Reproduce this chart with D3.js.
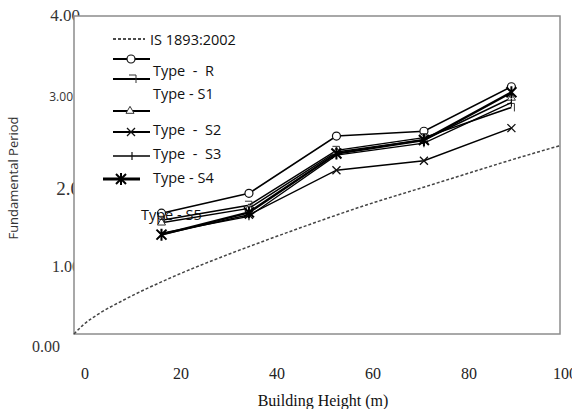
<!DOCTYPE html>
<html>
<head>
<meta charset="utf-8">
<script src="https://cdn.jsdelivr.net/npm/d3@7"></script>
<style>
  body { margin: 0; background: #fff; }
  svg { display: block; }
</style>
</head>
<body>
<div id="vis"></div>
<script>
const FRAME_WIDTH = 572;
const FRAME_HEIGHT = 409;
const MARGINS = {left: 74, right: 12, top: 16, bottom: 75};

// building heights (m) where the models were analysed
const heights = [18, 36, 54, 72, 90];
const typeR  = [1.52, 1.77, 2.49, 2.55, 3.11];
const typeS1 = [1.43, 1.62, 2.31, 2.47, 2.85];
const typeS2 = [1.40, 1.58, 2.29, 2.44, 2.97];
const typeS3 = [1.25, 1.50, 2.06, 2.18, 2.59];
const typeS4 = [1.27, 1.48, 2.25, 2.40, 2.91];
const typeS5 = [1.25, 1.53, 2.27, 2.44, 3.04];

// code curve
const codeHeights = [0, 2, 5, 10, 20, 30, 40, 50, 60, 70, 80, 90, 100];
const codePeriod  = [0, 0.12, 0.25, 0.42, 0.71, 0.96, 1.19, 1.41, 1.62, 1.81, 2.00, 2.19, 2.37];

const xTicks = [0, 20, 40, 60, 80, 100];
const yTicks = [0, 1, 2, 3, 4];
const yTickText = ["0.00", "1.00", "2.0", "3.00", "4.00"];

const VIS_WIDTH = FRAME_WIDTH - MARGINS.left - MARGINS.right;
const VIS_HEIGHT = FRAME_HEIGHT - MARGINS.top - MARGINS.bottom;

const svg = d3.select("#vis").append("svg")
    .attr("width", FRAME_WIDTH)
    .attr("height", FRAME_HEIGHT);

const X_SCALE = d3.scaleLinear().domain([0, 100]).range([MARGINS.left, MARGINS.left + VIS_WIDTH]);
const Y_SCALE = d3.scaleLinear().domain([0, 4]).range([MARGINS.top + VIS_HEIGHT, MARGINS.top]);
// the tick labels in the original sit a bit off the gridline positions
const X_LABEL = d3.scaleLinear().domain([0, 100]).range([85, 565]);

// y tick labels (drawn first, plot background clips the wide ones)
const yNudge = [{dx: -14, dy: 14, font: "serif", size: 16},
                {dx: 6, dy: 14, font: "serif", size: 16},
                {dx: 6, dy: 16, font: "serif", size: 19},
                {dx: -1, dy: 2, font: "sans", size: 12},
                {dx: 6, dy: 1, font: "serif", size: 17}];
svg.selectAll(".ylab")
    .data(yTicks)
    .enter()
    .append("text")
      .attr("x", (d, i) => MARGINS.left + yNudge[i].dx)
      .attr("y", (d, i) => Y_SCALE(d) + yNudge[i].dy)
      .attr("text-anchor", "end")
      .attr("dominant-baseline", "middle")
      .attr("font-family", (d, i) => yNudge[i].font == "serif" ? "'Liberation Serif', serif" : "'Open Sans', sans-serif")
      .attr("font-size", (d, i) => yNudge[i].size + "px")
      .attr("fill", "#333")
      .text((d, i) => yTickText[i]);

// plot box
svg.append("rect")
    .attr("x", X_SCALE(0))
    .attr("y", Y_SCALE(4))
    .attr("width", X_SCALE(100) - X_SCALE(0))
    .attr("height", Y_SCALE(0) - Y_SCALE(4))
    .attr("fill", "#fff")
    .attr("stroke", "#8c8c8c")
    .attr("stroke-width", 1.5);

// x tick labels
svg.selectAll(".xlab")
    .data(xTicks)
    .enter()
    .append("text")
      .attr("x", (d) => X_LABEL(d))
      .attr("y", 379)
      .attr("text-anchor", "middle")
      .attr("font-family", "'Liberation Serif', serif")
      .attr("font-size", "16px")
      .attr("fill", "#222")
      .text((d) => d);

svg.append("text")
    .attr("x", 323)
    .attr("y", 406)
    .attr("text-anchor", "middle")
    .attr("font-family", "'Liberation Serif', serif")
    .attr("font-size", "16px")
    .attr("fill", "#111")
    .text("Building Height (m)");

svg.append("text")
    .attr("transform", "translate(18,178) rotate(-90)")
    .attr("text-anchor", "middle")
    .attr("font-family", "'Open Sans', sans-serif")
    .attr("font-size", "13px")
    .attr("fill", "#333")
    .text("Fundamental Period");

// code curve
const codeLine = d3.line()
    .x((d, i) => X_SCALE(codeHeights[i]))
    .y((d) => Y_SCALE(d))
    .curve(d3.curveMonotoneX);
svg.append("path")
    .attr("d", codeLine(codePeriod))
    .attr("fill", "none")
    .attr("stroke", "#444")
    .attr("stroke-width", 1.5)
    .attr("stroke-dasharray", "3,2");

// marker shapes
function marker(g, kind, x, y) {
  if (kind == "circle") {
    g.append("circle").attr("cx", x).attr("cy", y).attr("r", 4)
      .attr("fill", "#fff").attr("stroke", "#111").attr("stroke-width", 1.2);
  } else if (kind == "corner") {
    g.append("path").attr("d", `M${x - 4},${y - 4}H${x + 3}V${y + 4}`)
      .attr("fill", "none").attr("stroke", "#333").attr("stroke-width", 1);
  } else if (kind == "triangle") {
    g.append("path").attr("d", d3.symbol(d3.symbolTriangle, 28)())
      .attr("transform", `translate(${x},${y})`)
      .attr("fill", "#fff").attr("stroke", "#333").attr("stroke-width", 1);
  } else if (kind == "cross") {
    g.append("path").attr("d", `M${x - 4},${y - 4}L${x + 4},${y + 4}M${x - 4},${y + 4}L${x + 4},${y - 4}`)
      .attr("stroke", "#111").attr("stroke-width", 1.3);
  } else if (kind == "plus") {
    g.append("path").attr("d", `M${x},${y - 4}V${y + 4}`)
      .attr("stroke", "#111").attr("stroke-width", 1.2);
  } else if (kind == "star") {
    g.append("path").attr("d", `M${x - 5},${y - 5}L${x + 5},${y + 5}M${x - 5},${y + 5}L${x + 5},${y - 5}M${x},${y - 6}V${y + 6}`)
      .attr("stroke", "#000").attr("stroke-width", 2);
  }
}

const series = [
  {name: "Type  -  R", values: typeR, kind: "circle", width: 1.6},
  {name: "Type - S1", values: typeS1, kind: "corner", width: 1.5},
  {name: "Type  -  S2", values: typeS2, kind: "triangle", width: 1.5},
  {name: "Type  -  S3", values: typeS3, kind: "cross", width: 1.4},
  {name: "Type - S4", values: typeS4, kind: "plus", width: 1.3},
  {name: "Type - S5", values: typeS5, kind: "star", width: 2.4}
];

const line = d3.line()
    .x((d, i) => X_SCALE(heights[i]))
    .y((d) => Y_SCALE(d));

series.forEach((s) => {
  const g = svg.append("g");
  g.append("path")
    .attr("d", line(s.values))
    .attr("fill", "none")
    .attr("stroke", "#000")
    .attr("stroke-width", s.width);
  s.values.forEach((v, i) => marker(g, s.kind, X_SCALE(heights[i]), Y_SCALE(v)));
});

// legend (rows in the original are not evenly spaced, texts drift from their markers)
const legendFont = "'Open Sans', sans-serif";
const lg = svg.append("g");
lg.append("line").attr("x1", 113).attr("x2", 145).attr("y1", 39).attr("y2", 39)
  .attr("stroke", "#111").attr("stroke-width", 1.5).attr("stroke-dasharray", "3,2");
lg.append("text").attr("x", 150).attr("y", 45)
  .attr("font-family", legendFont).attr("font-size", "14.5px").attr("fill", "#111")
  .text("IS 1893:2002");

const legendRows = [
  {ly: 59, lx1: 113, lx2: 150, mx: 131, tx: 153, ty: 76},
  {ly: 79, lx1: 113, lx2: 150, mx: 133, tx: 153, ty: 99},
  {ly: 111, lx1: 113, lx2: 150, mx: 130, tx: 153, ty: 135},
  {ly: 132, lx1: 113, lx2: 150, mx: 131, tx: 153, ty: 159},
  {ly: 156, lx1: 113, lx2: 150, mx: 132, tx: 153, ty: 183},
  {ly: 179, lx1: 103, lx2: 140, mx: 121, tx: 141, ty: 220}
];
series.forEach((s, i) => {
  const r = legendRows[i];
  lg.append("line").attr("x1", r.lx1).attr("x2", r.lx2).attr("y1", r.ly).attr("y2", r.ly)
    .attr("stroke", "#000").attr("stroke-width", s.width + 0.4);
  marker(lg, s.kind, r.mx, r.ly);
  lg.append("text")
    .attr("x", r.tx)
    .attr("y", r.ty)
    .attr("font-family", legendFont).attr("font-size", "14.5px").attr("fill", "#111")
    .style("white-space", "pre")
    .text(s.name);
});
</script>
</body>
</html>
